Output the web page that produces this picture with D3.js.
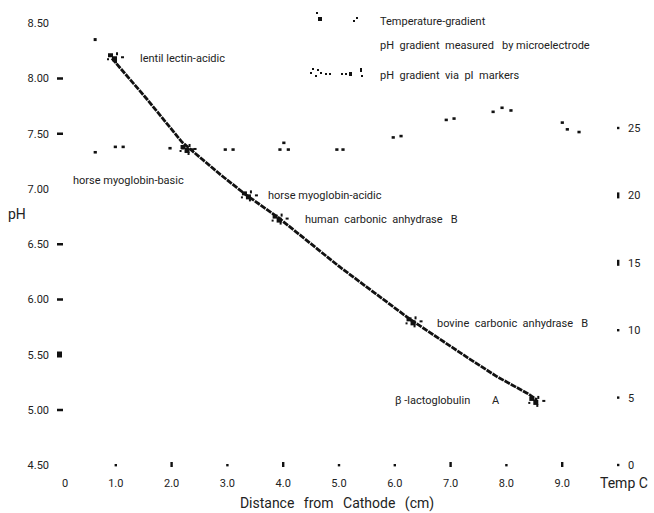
<!DOCTYPE html>
<html>
<head>
<meta charset="utf-8">
<script src="https://cdn.jsdelivr.net/npm/d3@7"></script>
<style>
  body { margin: 0; background: #fff; }
  text { font-family: Roboto, "Liberation Sans", sans-serif; fill: #222; white-space: pre; }
</style>
</head>
<body>
<div id="chart"></div>
<script>
// axis ticks
const phTicks = [8.5, 8.0, 7.5, 7.0, 6.5, 6.0, 5.5, 5.0, 4.5];
const distTicks = [0, 1, 2, 3, 4, 5, 6, 7, 8, 9];
const distTickLabels = ["0", "1.0", "2.0", "3.0", "4.0", "5.0", "6.0", "7.0", "8.0", "9.0"];
const tempTicks = [0, 5, 10, 15, 20, 25];

// pH gradient measured by microelectrode (distance cm, pH)
const phDist = [0.93, 1.56, 2.19, 2.87, 3.32, 3.91, 5.02, 6.27, 7.31, 7.83, 8.37, 8.55];
const phVal  = [8.18, 7.81, 7.42, 7.13, 6.95, 6.74, 6.29, 5.82, 5.47, 5.30, 5.15, 5.09];

// temperature gradient readings (distance cm, deg C)
const tempDist = [0.63, 0.99, 1.13, 1.97, 2.20, 2.37, 2.96, 3.10, 3.94, 4.01, 4.09, 4.96, 5.07,
                  5.97, 6.11, 6.92, 7.06, 7.76, 7.92, 8.08, 9.00, 9.09, 9.30];
const tempVal  = [23.2, 23.6, 23.6, 23.5, 23.5, 23.4, 23.4, 23.4, 23.4, 23.9, 23.4, 23.4, 23.4,
                  24.3, 24.4, 25.6, 25.7, 26.2, 26.5, 26.3, 25.4, 24.9, 24.7];

// pI markers (distance cm, pH, name)
const markerDist = [0.95, 2.25, 3.35, 3.90, 6.30, 8.50];
const markerPh   = [8.19, 7.36, 6.94, 6.73, 5.80, 5.08];
const markerName = ["lentil lectin-acidic", "horse myoglobin-basic", "horse myoglobin-acidic",
                    "human  carbonic  anhydrase   B", "bovine  carbonic  anhydrase   B",
                    "β -lactoglobulin        A"];

const width = 654, height = 513;

const svg = d3.select("#chart")
  .append("svg")
    .attr("width", width)
    .attr("height", height);

const x = d3.scaleLinear().domain([0, 10]).range([60, 618]);
const y = d3.scaleLinear().domain([4.5, 8.5]).range([465, 23]);
const yT = d3.scaleLinear().domain([0, 25]).range([465, 128]);

const ink = "#111";

// left axis: labels and odd little tick marks
const leftMark = {"8.00": "dash", "7.50": "dash", "6.50": "dash", "6.00": "dash", "5.50": "block", "5.00": "dash"};
const left = svg.append("g");
left.selectAll("text")
  .data(phTicks)
  .join("text")
    .attr("x", 49)
    .attr("y", d => y(d) + 4)
    .attr("text-anchor", "end")
    .attr("font-size", 11)
    .text(d => d.toFixed(2));
left.selectAll("rect")
  .data(phTicks.filter(d => leftMark[d.toFixed(2)]))
  .join("rect")
    .attr("x", 57)
    .attr("y", d => leftMark[d.toFixed(2)] === "block" ? y(d) - 3 : y(d) - 1)
    .attr("width", d => leftMark[d.toFixed(2)] === "block" ? 5 : 6)
    .attr("height", d => leftMark[d.toFixed(2)] === "block" ? 6 : 2.5)
    .attr("fill", ink);

// bottom axis
const bottom = svg.append("g");
bottom.selectAll("text")
  .data(distTicks)
  .join("text")
    .attr("x", d => d === 0 ? x(d) + 5 : x(d))
    .attr("y", 487)
    .attr("text-anchor", "middle")
    .attr("font-size", 11)
    .text((d, i) => distTickLabels[i]);
bottom.selectAll("rect")
  .data(distTicks.filter(d => d > 0))
  .join("rect")
    .attr("x", d => x(d) - 1.2)
    .attr("y", d => [2, 4, 7, 9].includes(d) ? 462 : 464)
    .attr("width", 2.4)
    .attr("height", d => [2, 4, 7, 9].includes(d) ? 5 : 2.4)
    .attr("fill", ink);

// right axis (temperature)
const right = svg.append("g");
right.selectAll("text")
  .data(tempTicks)
  .join("text")
    .attr("x", 628)
    .attr("y", d => yT(d) + 4)
    .attr("font-size", 11)
    .text(d => d);
right.selectAll("rect")
  .data(tempTicks)
  .join("rect")
    .attr("x", 617)
    .attr("y", d => [15, 20].includes(d) ? yT(d) - 3 : yT(d) - 1.2)
    .attr("width", 2.4)
    .attr("height", d => [15, 20].includes(d) ? 6 : 2.4)
    .attr("fill", ink);

// axis titles
svg.append("text").attr("x", 8).attr("y", 219).attr("font-size", 14).text("pH");
svg.append("text").attr("x", 600).attr("y", 488).attr("font-size", 14).text("Temp C");
svg.append("text").attr("x", 337).attr("y", 508).attr("font-size", 14)
  .attr("text-anchor", "middle").attr("word-spacing", 6).text("Distance from Cathode (cm)");

// pH gradient line
const line = d3.line()
  .x(d => x(d[0]))
  .y(d => y(d[1]));
svg.append("path")
  .datum(phDist.map((d, i) => [d, phVal[i]]))
  .attr("d", line)
  .attr("fill", "none")
  .attr("stroke", ink)
  .attr("stroke-width", 2.8)
  .attr("stroke-dasharray", "6,1");
// stray first reading near the cathode
svg.append("rect")
  .attr("x", x(0.63) - 1.5).attr("y", y(8.35) - 1.5)
  .attr("width", 3).attr("height", 3).attr("fill", ink);

// temperature readings
svg.append("g").selectAll("rect")
  .data(tempDist.map((d, i) => [d, tempVal[i]]))
  .join("rect")
    .attr("x", d => x(d[0]) - 1.5)
    .attr("y", d => yT(d[1]) - 1.3)
    .attr("width", 3.2)
    .attr("height", 2.6)
    .attr("fill", ink);

// pI marker clusters
const blob = [[-5, -4, 5, 4], [-1, -1, 5, 5], [-6, 1, 2, 2], [3, -5, 2, 3], [2, 3, 2, 3], [8, -1, 3, 2]];
const markers = svg.append("g").selectAll("g")
  .data(markerDist.map((d, i) => ({dist: d, ph: markerPh[i], name: markerName[i]})))
  .join("g")
    .attr("transform", d => `translate(${x(d.dist)},${y(d.ph)})`);
markers.selectAll("rect")
  .data(blob)
  .join("rect")
    .attr("x", b => b[0]).attr("y", b => b[1])
    .attr("width", b => b[2]).attr("height", b => b[3])
    .attr("fill", ink);

// marker names
const labelPos = [[140, 62], [73, 184], [268, 199], [305, 223], [437, 327], [395, 404]];
svg.append("g").selectAll("text")
  .data(markerName)
  .join("text")
    .attr("x", (d, i) => labelPos[i][0])
    .attr("y", (d, i) => labelPos[i][1])
    .attr("font-size", 11)
    .text(d => d);

// legend
const legend = svg.append("g");
const legendText = ["Temperature-gradient", "pH  gradient  measured   by microelectrode", "pH  gradient  via  pI  markers"];
legend.selectAll("text")
  .data(legendText)
  .join("text")
    .attr("x", 380)
    .attr("y", (d, i) => [25, 49, 79][i])
    .attr("font-size", 11)
    .text(d => d);
const tempKey = [[316, 12, 2, 2], [318, 17, 4, 4], [353, 20, 2, 2], [356, 17, 2, 2]];
const pIKey = [[310, 72, 2, 2], [312, 68, 2, 2], [315, 75, 2, 2], [317, 69, 2, 2], [320, 72, 2, 2],
               [325, 73, 2, 2], [329, 73, 2, 2], [341, 73, 2, 2], [345, 73, 2, 2],
               [349, 72, 3, 4], [360, 68, 2, 4], [361, 75, 2, 2]];
legend.append("g").selectAll("rect")
  .data(tempKey.concat(pIKey))
  .join("rect")
    .attr("x", d => d[0]).attr("y", d => d[1])
    .attr("width", d => d[2]).attr("height", d => d[3])
    .attr("fill", ink);
</script>
</body>
</html>
